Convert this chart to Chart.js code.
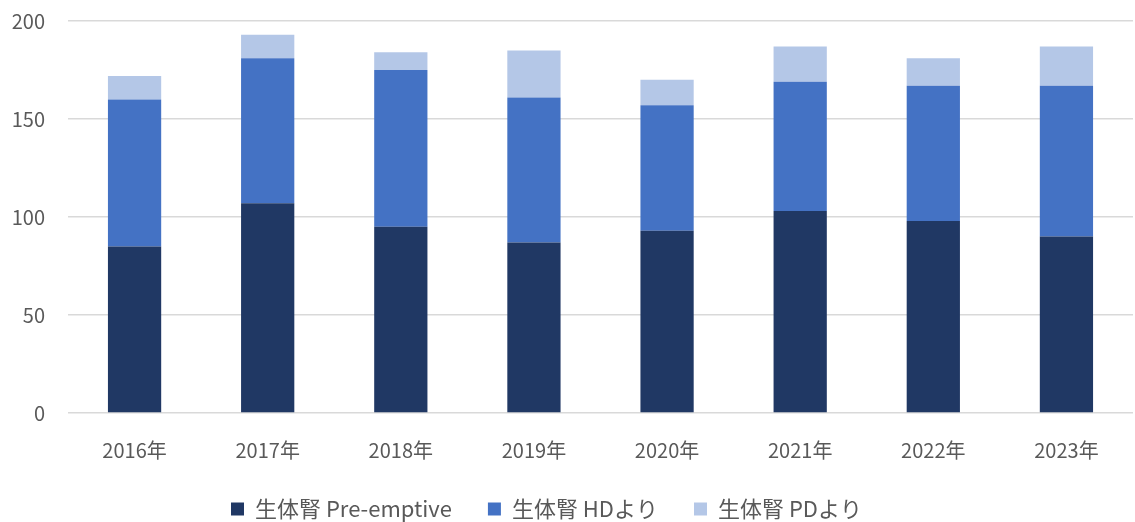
<!DOCTYPE html>
<html><head><meta charset="utf-8">
<script src="https://cdn.jsdelivr.net/npm/chart.js@4.4.0/dist/chart.umd.min.js"></script>
<style>html,body{margin:0;padding:0;background:#fff;}canvas{display:block;}</style>
</head><body>
<canvas id="c" width="1135" height="522"></canvas>
<script>
const categories = ["2016年","2017年","2018年","2019年","2020年","2021年","2022年","2023年"];
const preEmptive = [85,107,95,87,93,103,98,90];
const fromHD = [75,74,80,74,64,66,69,77];
const fromPD = [12,12,9,24,13,18,14,20];
const seriesNames = ["生体腎 Pre-emptive","生体腎 HDより","生体腎 PDより"];
const yTicks = [0,50,100,150,200];

const FONT = "'Noto Sans CJK JP', 'Noto Sans', sans-serif";
const legendHeight = {
  id: 'legendHeight',
  beforeLayout(chart) {
    const lg = chart.legend;
    if (lg && !lg._patched) {
      const orig = lg.fit;
      lg.fit = function() { orig.call(this); this.height = 60; };
      lg._patched = true;
    }
  },
  afterLayout(chart) {
    const lg = chart.legend;
    if (lg) { lg.left -= 20; lg.right -= 20; }
  }
};
new Chart(document.getElementById('c'), {
  type: 'bar',
  data: {
    labels: categories,
    datasets: [
      {label: seriesNames[0], data: preEmptive, backgroundColor: '#203864'},
      {label: seriesNames[1], data: fromHD, backgroundColor: '#4472C4'},
      {label: seriesNames[2], data: fromPD, backgroundColor: '#B4C7E7'}
    ]
  },
  plugins: [legendHeight],
  options: {
    responsive: false,
    animation: false,
    devicePixelRatio: 1,
    datasets: {bar: {categoryPercentage: 1.0, barPercentage: 0.4}},
    layout: {padding: {top: 21, right: 2, left: 0, bottom: 0}},
    plugins: {
      tooltip: {enabled: false},
      legend: {
        position: 'bottom',
        labels: {
          boxWidth: 13, boxHeight: 13, padding: 36,
          color: '#595959',
          font: {family: FONT, size: 22}
        }
      }
    },
    scales: {
      x: {
        stacked: true,
        afterFit: (s) => { s.height = 49; },
        grid: {display: false, drawTicks: false},
        border: {display: false},
        ticks: {color: '#595959', font: {family: FONT, size: 20}, padding: 25}
      },
      y: {
        stacked: true,
        min: 0, max: 200,
        afterBuildTicks: (s) => { s.ticks = yTicks.map(v => ({value: v})); },
        afterFit: (s) => { s.width = 68; },
        grid: {color: '#d9d9d9', lineWidth: 1.5, drawTicks: true, tickLength: 23, tickColor: 'rgba(0,0,0,0)'},
        border: {display: false},
        ticks: {color: '#595959', font: {family: FONT, size: 20}, padding: 0}
      }
    }
  }
});
</script>
</body></html>
